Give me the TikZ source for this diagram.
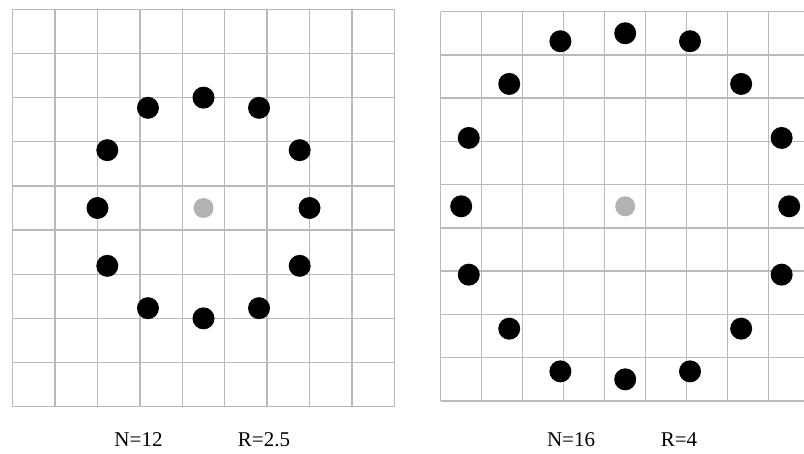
\documentclass[tikz,border=0pt]{standalone}
\usepackage{fontspec}
\setmainfont{Liberation Serif}
\usepackage{tikz}
\usetikzlibrary{positioning}
\definecolor{gridgray}{RGB}{186,186,186}
\definecolor{centgray}{RGB}{178,178,178}
\tikzset{
  gridline/.style={line width=1.4pt, color=gridgray},
  dot/.style={circle, fill=black, minimum size=22pt, inner sep=0pt},
  centdot/.style={circle, fill=centgray, minimum size=20pt, inner sep=0pt},
  lbl/.style={font=\fontsize{21}{24}\selectfont, inner sep=0pt}
}

\begin{document}
\begin{tikzpicture}[x=1pt, y=-1pt]
  \useasboundingbox (0,0) rectangle (804,454);
  \clip (0,0) rectangle (804,454);

  % Left grid: N=12, R=2.5
  \begin{scope}[shift={(203.5,208)}, x=42.4pt, y=-44.15pt]
    \foreach \k in {-4.5,-3.5,...,4.5} {
      \draw[gridline] (\k,-4.5) -- (\k,4.5);
      \draw[gridline] (-4.5,\k) -- (4.5,\k);
    }
    \node[centdot] (cen_l) at (0,0) {};
    \foreach \a/\r [count=\i] in {0/2.5, 30/2.62, 60/2.62, 90/2.5, 120/2.62, 150/2.62,
        180/2.5, 210/2.62, 240/2.62, 270/2.5, 300/2.62, 330/2.62}
      \node[dot] (dl\i) at (\a:\r) {};
  \end{scope}

  % Right grid: N=16, R=4
  \begin{scope}[shift={(625.2,206.3)}, x=41pt, y=-43.26pt]
    \foreach \k in {-4.5,-3.5,...,4.5} {
      \draw[gridline] (\k,-4.5) -- (\k,4.5);
      \draw[gridline] (-4.5,\k) -- (4.5,\k);
    }
    \node[centdot] (cen_r) at (0,0) {};
    \foreach \a/\r [count=\i] in {0/4, 22.5/4.13, 45/4, 67.5/4.13, 90/4, 112.5/4.13,
        135/4, 157.5/4.13, 180/4, 202.5/4.13, 225/4, 247.5/4.13, 270/4, 292.5/4.13,
        315/4, 337.5/4.13}
      \node[dot] (dr\i) at (\a:\r) {};
  \end{scope}

  % Labels
  \node[lbl] (lbl_nl) at (138.5,440) {N=12};
  \node[lbl] (lbl_rl) at (264,440) {R=2.5};
  \node[lbl] (lbl_nr) at (571,440) {N=16};
  \node[lbl] (lbl_rr) at (679,440) {R=4};
\end{tikzpicture}
\end{document}
